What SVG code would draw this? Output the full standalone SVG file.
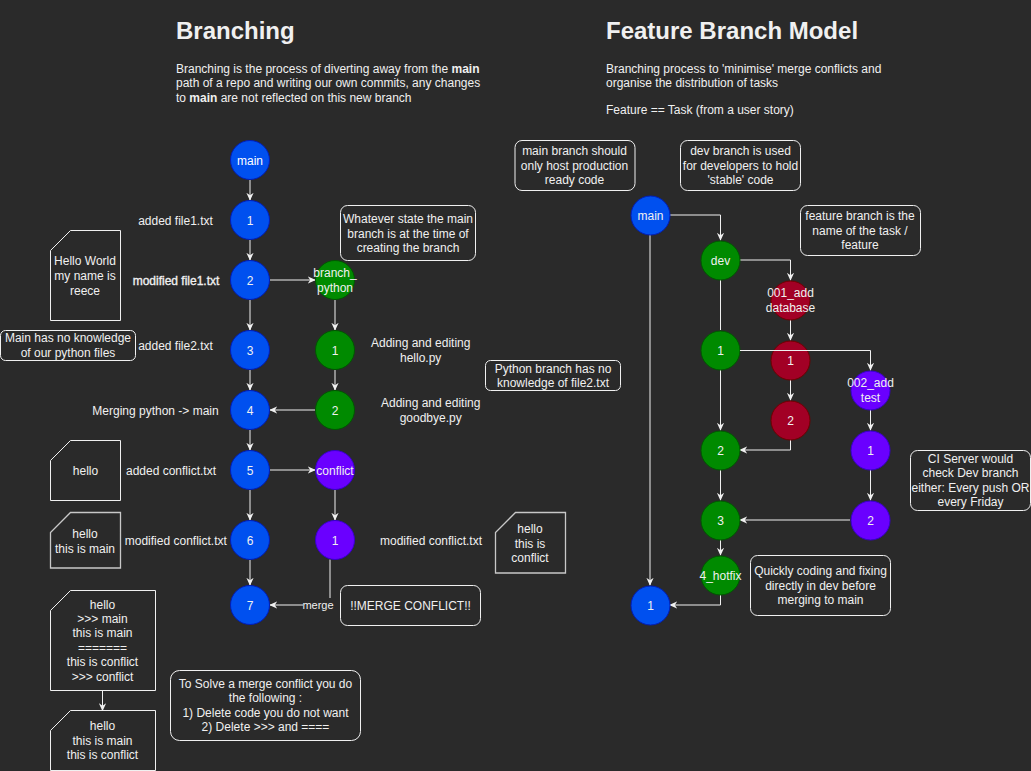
<svg xmlns="http://www.w3.org/2000/svg" width="1031" height="771" viewBox="0 0 1031 771">
<defs>
<marker id="arr" viewBox="0 0 10 10" refX="9" refY="5" markerWidth="8" markerHeight="8" markerUnits="userSpaceOnUse" orient="auto">
<path d="M0,0.5 L10,5 L0,9.5 L3,5 Z" fill="#f0f0f0"/>
</marker>
<style>
text{font-family:"Liberation Sans",Arial,Helvetica,sans-serif;font-size:12px;fill:#f0f0f0}
.c{text-anchor:middle}
.title{font-size:24px;font-weight:bold}
.b{font-weight:bold}
.heavy{stroke:#f0f0f0;stroke-width:0.35px}
.edge{fill:none;stroke:#f0f0f0;stroke-width:1}
.arr{marker-end:url(#arr)}
.note{fill:none;stroke:#f0f0f0;stroke-width:1}
.doc{fill:none;stroke:#f0f0f0;stroke-width:1}
.doc2{fill:none;stroke:#c8c8c8;stroke-width:1.3}
.blue{fill:#0050ef;stroke:#001dbc}
.green{fill:#008a00;stroke:#005700}
.red{fill:#a20025;stroke:#6f0000}
.purple{fill:#6a00ff;stroke:#3700cc}
.w{fill:#ffffff}
</style>
</defs>
<rect x="0" y="0" width="1031" height="771" fill="#2a2a2a"/>

<!-- Headings -->
<g id="heading-left">
<text class="title" x="176" y="39">Branching</text>
<text x="176" y="72.5">Branching is the process of diverting away from the <tspan class="b">main</tspan></text>
<text x="176" y="87">path of a repo and writing our own commits, any changes</text>
<text x="176" y="101.5">to <tspan class="b">main</tspan> are not reflected on this new branch</text>
</g>
<g id="heading-right">
<text class="title" x="606" y="39">Feature Branch Model</text>
<text x="606" y="72.5">Branching process to 'minimise' merge conflicts and</text>
<text x="606" y="87">organise the distribution of tasks</text>
<text x="606" y="114">Feature == Task (from a user story)</text>
</g>

<!-- Connectors -->
<g id="connectors">
<line class="edge arr" x1="250" y1="180" x2="250" y2="200"/>
<line class="edge arr" x1="250" y1="240" x2="250" y2="260"/>
<line class="edge arr" x1="250" y1="300" x2="250" y2="330"/>
<line class="edge arr" x1="250" y1="370" x2="250" y2="390"/>
<line class="edge arr" x1="250" y1="430" x2="250" y2="450"/>
<line class="edge arr" x1="250" y1="490" x2="250" y2="520"/>
<line class="edge arr" x1="250" y1="560" x2="250" y2="585"/>
<line class="edge arr" x1="270" y1="280" x2="315" y2="280"/>
<line class="edge arr" x1="335" y1="300" x2="335" y2="330"/>
<line class="edge arr" x1="335" y1="370" x2="335" y2="390"/>
<line class="edge arr" x1="315" y1="410" x2="270" y2="410"/>
<line class="edge arr" x1="270" y1="470" x2="315" y2="470"/>
<line class="edge arr" x1="335" y1="490" x2="335" y2="520"/>
<polyline class="edge arr" points="330,559.5 330,605 270,605"/>
<line class="edge arr" x1="102.5" y1="690.5" x2="102.5" y2="710.5"/>

<polyline class="edge arr" points="670,215 720.5,215 720.5,240"/>
<line class="edge arr" x1="650" y1="235" x2="650" y2="585"/>
<polyline class="edge arr" points="740,260 790.5,260 790.5,280"/>
<line class="edge" x1="720.5" y1="280" x2="720.5" y2="330"/>
<line class="edge arr" x1="790.5" y1="320" x2="790.5" y2="340"/>
<line class="edge arr" x1="790.5" y1="380" x2="790.5" y2="400"/>
<line class="edge arr" x1="720.5" y1="370" x2="720.5" y2="430"/>
<polyline class="edge arr" points="790.5,440 790.5,450 740,450"/>
<line class="edge arr" x1="870.5" y1="410" x2="870.5" y2="430"/>
<line class="edge arr" x1="870.5" y1="470" x2="870.5" y2="500"/>
<line class="edge arr" x1="720.5" y1="470" x2="720.5" y2="500"/>
<line class="edge arr" x1="850" y1="520" x2="740" y2="520"/>
<line class="edge arr" x1="720.5" y1="540" x2="720.5" y2="555"/>
<polyline class="edge arr" points="720.5,595 720.5,605 670,605"/>
</g>

<!-- Left: main branch nodes -->
<g id="l-main"><circle class="blue" cx="250" cy="160" r="19.5"/><text class="c w" x="250" y="164.5">main</text></g>
<g id="l-1"><circle class="blue" cx="250" cy="220" r="19.5"/><text class="c" x="250" y="224.5">1</text></g>
<g id="l-2"><circle class="blue" cx="250" cy="280" r="19.5"/><text class="c" x="250" y="284.5">2</text></g>
<g id="l-3"><circle class="blue" cx="250" cy="350" r="19.5"/><text class="c" x="250" y="354.5">3</text></g>
<g id="l-4"><circle class="blue" cx="250" cy="410" r="19.5"/><text class="c" x="250" y="414.5">4</text></g>
<g id="l-5"><circle class="blue" cx="250" cy="470" r="19.5"/><text class="c" x="250" y="474.5">5</text></g>
<g id="l-6"><circle class="blue" cx="250" cy="540" r="19.5"/><text class="c" x="250" y="544.5">6</text></g>
<g id="l-7"><circle class="blue" cx="250" cy="605" r="19.5"/><text class="c" x="250" y="609.5">7</text></g>

<g id="l-branch-python"><circle class="green" cx="335" cy="280" r="19.5"/><text class="c" x="335" y="277">branch_</text><text class="c" x="335" y="292">python</text></g>
<g id="l-py-1"><circle class="green" cx="335" cy="350" r="19.5"/><text class="c" x="335" y="354.5">1</text></g>
<g id="l-py-2"><circle class="green" cx="335" cy="410" r="19.5"/><text class="c" x="335" y="414.5">2</text></g>
<g id="l-conflict"><circle class="purple" cx="335" cy="470" r="19.5"/><text class="c" x="335" y="474.5">conflict</text></g>
<g id="l-conflict-1"><circle class="purple" cx="335" cy="540" r="19.5"/><text class="c" x="335" y="544.5">1</text></g>

<!-- merge label -->
<g id="merge-label"><rect x="303" y="598" width="30" height="14" fill="#2a2a2a"/><text class="c" x="318" y="609" style="font-size:11px">merge</text></g>

<!-- Left labels -->
<g id="l-labels">
<text class="c" x="175.5" y="224.5">added file1.txt</text>
<text class="c heavy" x="176" y="284.5">modified file1.txt</text>
<text class="c" x="175.5" y="350">added file2.txt</text>
<text class="c" x="155.5" y="415">Merging python -&gt; main</text>
<text class="c" x="171" y="475">added conflict.txt</text>
<text class="c" x="175.8" y="545">modified conflict.txt</text>
<text class="c" x="420.7" y="347">Adding and editing</text>
<text class="c" x="420.7" y="362">hello.py</text>
<text class="c" x="430.7" y="407">Adding and editing</text>
<text class="c" x="430.7" y="422">goodbye.py</text>
<text class="c" x="431" y="545">modified conflict.txt</text>
</g>

<!-- Left notes -->
<g id="note-hello-world"><path class="doc" d="M70.5,230.5 L120.5,230.5 L120.5,320.5 L50.5,320.5 L50.5,250.5 Z"/>
<text class="c" x="85" y="265">Hello World</text><text class="c" x="85" y="280">my name is</text><text class="c" x="85" y="294.5">reece</text></g>
<g id="note-main-knowledge"><rect class="note" x="0.5" y="330.5" width="135" height="30" rx="5"/>
<text class="c" x="68" y="342">Main has no knowledge</text><text class="c" x="68" y="357">of our python files</text></g>
<g id="note-whatever"><rect class="note" x="340.5" y="205.5" width="135" height="55" rx="7"/>
<text class="c" x="408" y="223">Whatever state the main</text><text class="c" x="408" y="238">branch is at the time of</text><text class="c" x="408" y="252">creating the branch</text></g>
<g id="note-python-knowledge"><rect class="note" x="485.5" y="360.5" width="135" height="30" rx="5"/>
<text class="c" x="553" y="372.5">Python branch has no</text><text class="c" x="553" y="387">knowledge of file2.txt</text></g>
<g id="note-hello"><path class="doc" d="M70.5,440.5 L120.5,440.5 L120.5,500.5 L50.5,500.5 L50.5,460.5 Z"/>
<text class="c" x="85.5" y="475">hello</text></g>
<g id="note-hello-main"><path class="doc2" d="M70.5,512.5 L120.5,512.5 L120.5,568 L50.5,568 L50.5,532.5 Z"/>
<text class="c" x="85" y="538">hello</text><text class="c" x="85" y="552.5">this is main</text></g>
<g id="note-hello-conflict"><path class="doc2" d="M515.5,512.5 L565.5,512.5 L565.5,573 L495.5,573 L495.5,532.5 Z"/>
<text class="c" x="530" y="533">hello</text><text class="c" x="530" y="548">this is</text><text class="c" x="530" y="562">conflict</text></g>
<g id="note-merge-conflict"><rect class="note" x="340.5" y="585.5" width="140" height="40" rx="7"/>
<text class="c" x="410.5" y="609.5">!!MERGE CONFLICT!!</text></g>
<g id="note-conflict-file"><path class="doc" d="M70.5,590.5 L155.5,590.5 L155.5,690.5 L50.5,690.5 L50.5,610.5 Z"/>
<text class="c" x="102.5" y="609">hello</text><text class="c" x="102.5" y="623">&gt;&gt;&gt; main</text><text class="c" x="102.5" y="637">this is main</text><text class="c" x="102.5" y="651.5">=======</text><text class="c" x="102.5" y="665.5">this is conflict</text><text class="c" x="102.5" y="680.5">&gt;&gt;&gt; conflict</text></g>
<g id="note-resolved"><path class="doc" d="M70.5,710.5 L155.5,710.5 L155.5,770.5 L50.5,770.5 L50.5,730.5 Z"/>
<text class="c" x="102.5" y="730">hello</text><text class="c" x="102.5" y="745">this is main</text><text class="c" x="102.5" y="759">this is conflict</text></g>
<g id="note-solve"><rect class="note" x="170.5" y="670.5" width="190" height="70" rx="9"/>
<text class="c" x="265.5" y="688">To Solve a merge conflict you do</text><text class="c" x="265.5" y="702">the following :</text><text class="c" x="265.5" y="717">1) Delete code you do not want</text><text class="c" x="265.5" y="731">2) Delete &gt;&gt;&gt; and ====</text></g>

<!-- Right: nodes -->
<g id="r-main"><circle class="blue" cx="650.5" cy="215.5" r="19.5"/><text class="c" x="650.5" y="220">main</text></g>
<g id="r-main-1"><circle class="blue" cx="650.5" cy="605.5" r="19.5"/><text class="c" x="650.5" y="610">1</text></g>
<g id="r-dev"><circle class="green" cx="720.5" cy="260.5" r="19.5"/><text class="c" x="720.5" y="265">dev</text></g>
<g id="r-dev-1"><circle class="green" cx="720.5" cy="350.5" r="19.5"/><text class="c" x="720.5" y="355">1</text></g>
<g id="r-dev-2"><circle class="green" cx="720.5" cy="450.5" r="19.5"/><text class="c" x="720.5" y="455">2</text></g>
<g id="r-dev-3"><circle class="green" cx="720.5" cy="520.5" r="19.5"/><text class="c" x="720.5" y="525">3</text></g>
<g id="r-hotfix"><circle class="green" cx="720.5" cy="575.5" r="19.5"/><text class="c" x="720.5" y="580">4_hotfix</text></g>
<g id="r-001"><circle class="red" cx="790.5" cy="300.5" r="19.5"/><text class="c" x="790.5" y="297">001_add</text><text class="c" x="790.5" y="312">database</text></g>
<g id="r-001-1"><circle class="red" cx="790.5" cy="360.5" r="19.5"/><text class="c" x="790.5" y="365">1</text></g>
<g id="r-001-2"><circle class="red" cx="790.5" cy="420.5" r="19.5"/><text class="c" x="790.5" y="425">2</text></g>
<g id="r-002"><circle class="purple" cx="870.5" cy="390.5" r="19.5"/><text class="c" x="870.5" y="387">002_add</text><text class="c" x="870.5" y="402">test</text></g>
<g id="r-002-1"><circle class="purple" cx="870.5" cy="450.5" r="19.5"/><text class="c" x="870.5" y="455">1</text></g>
<g id="r-002-2"><circle class="purple" cx="870.5" cy="520.5" r="19.5"/><text class="c" x="870.5" y="525">2</text></g>

<!-- dev1 -> 002 connector drawn over red node -->
<g id="connector-over"><polyline class="edge arr" points="740,350.5 870.5,350.5 870.5,370"/></g>

<!-- Right notes -->
<g id="note-main-branch"><rect class="note" x="515" y="140.5" width="120" height="50" rx="7"/>
<text class="c" x="574.5" y="155">main branch should</text><text class="c" x="574.5" y="170">only host production</text><text class="c" x="574.5" y="184">ready code</text></g>
<g id="note-dev-branch"><rect class="note" x="680.5" y="140.5" width="120" height="50" rx="7"/>
<text class="c" x="740.5" y="155">dev branch is used</text><text class="c" x="740.5" y="170">for developers to hold</text><text class="c" x="740.5" y="184">'stable' code</text></g>
<g id="note-feature-branch"><rect class="note" x="800.5" y="205.5" width="120" height="50" rx="7"/>
<text class="c" x="860" y="220">feature branch is the</text><text class="c" x="860" y="235">name of the task /</text><text class="c" x="860" y="249">feature</text></g>
<g id="note-ci"><rect class="note" x="910.5" y="450.5" width="120" height="60" rx="7"/>
<text class="c" x="970.5" y="463">CI Server would</text><text class="c" x="970.5" y="477">check Dev branch</text><text class="c" x="970.5" y="492">either: Every push OR</text><text class="c" x="970.5" y="506">every Friday</text></g>
<g id="note-hotfix"><rect class="note" x="750.5" y="555.5" width="140" height="60" rx="7"/>
<text class="c" x="820.5" y="575">Quickly coding and fixing</text><text class="c" x="820.5" y="590">directly in dev before</text><text class="c" x="820.5" y="604">merging to main</text></g>
</svg>
